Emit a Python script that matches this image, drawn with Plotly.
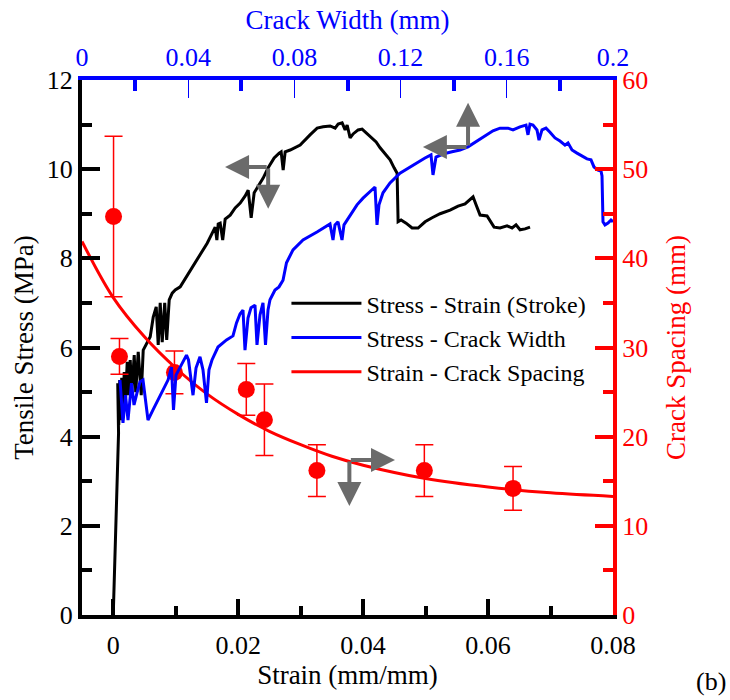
import plotly.graph_objects as go

# Stress - strain (stroke) curve: strain (mm/mm), tensile stress (MPa)
strain_stroke = [0.0, 0.00085, 0.00072, 0.00088, 0.00104, 0.0012, 0.00136, 0.00152, 0.00176, 0.00192,
                 0.00224, 0.00248, 0.00272, 0.00296, 0.00336, 0.0036, 0.004, 0.00448, 0.0048, 0.00544,
                 0.00592, 0.0064, 0.00688, 0.0072, 0.00752, 0.00784, 0.00824, 0.00856, 0.00896, 0.00944,
                 0.00992, 0.01072, 0.01168, 0.0128, 0.01392, 0.01504, 0.01632, 0.01659, 0.0168, 0.01712,
                 0.01752, 0.01792, 0.01872, 0.01952, 0.02032, 0.02112, 0.0216, 0.02208, 0.02256, 0.0232,
                 0.024, 0.0248, 0.02576, 0.02656, 0.02688, 0.0272, 0.02752, 0.02832, 0.02992, 0.0315,
                 0.03264, 0.0336, 0.03472, 0.03552, 0.036, 0.03664, 0.03712, 0.03744, 0.03792, 0.0384,
                 0.0392, 0.03984, 0.04064, 0.04144, 0.04208, 0.04272, 0.04352, 0.04432, 0.04496, 0.04544,
                 0.0456, 0.04608, 0.04688, 0.04784, 0.0488, 0.04992, 0.05104, 0.05232, 0.05392, 0.0552,
                 0.05632, 0.05712, 0.0576, 0.05808, 0.05872, 0.05984, 0.06048, 0.06096, 0.06192, 0.06304,
                 0.06384, 0.06448, 0.06512, 0.06592, 0.06672]
stress_stroke = [0.0, 4.08, 5.20, 4.26, 5.27, 4.37, 5.32, 4.49, 5.45, 4.71,
                 5.68, 4.93, 5.72, 4.98, 5.83, 5.00, 5.90, 4.93, 5.94, 6.10,
                 6.24, 6.68, 6.91, 6.06, 7.00, 6.12, 7.00, 6.17, 7.07, 7.22,
                 7.29, 7.36, 7.58, 7.81, 8.08, 8.34, 8.70, 8.41, 8.77, 8.79,
                 8.41, 8.88, 8.97, 9.13, 9.24, 9.40, 9.53, 8.91, 9.47, 9.62,
                 9.80, 10.03, 10.25, 10.36, 10.39, 9.98, 10.39, 10.43, 10.54, 10.77,
                 10.92, 10.95, 10.97, 10.92, 11.01, 11.04, 10.88, 10.99, 10.70, 10.79,
                 10.88, 10.90, 10.79, 10.70, 10.61, 10.48, 10.34, 10.21, 10.03, 9.91,
                 8.82, 8.86, 8.79, 8.68, 8.68, 8.82, 8.91, 9.00, 9.08, 9.17,
                 9.22, 9.31, 9.38, 9.20, 8.97, 8.95, 8.82, 8.70, 8.68, 8.73,
                 8.68, 8.75, 8.64, 8.66, 8.70]

# Stress - crack width curve: crack width (mm), tensile stress (MPa)
crack_width = [0.01431, 0.01544, 0.01638, 0.01733, 0.01864, 0.01959, 0.02072, 0.02185, 0.02298, 0.02486,
               0.02674, 0.02863, 0.03051, 0.03239, 0.03371, 0.03446, 0.0354, 0.03691, 0.03936, 0.04011,
               0.04181, 0.04294, 0.04444, 0.04557, 0.04689, 0.04783, 0.04896, 0.05122, 0.05443, 0.05687,
               0.05819, 0.05951, 0.06064, 0.06139, 0.06252, 0.06365, 0.06516, 0.06591, 0.06704, 0.06817,
               0.06911, 0.07006, 0.07081, 0.07269, 0.0742, 0.07571, 0.07702, 0.07947, 0.08324, 0.08851,
               0.09341, 0.09454, 0.09529, 0.09642, 0.09793, 0.09868, 0.10094, 0.10358, 0.10584, 0.10847,
               0.11036, 0.11111, 0.11186, 0.11337, 0.11601, 0.11977, 0.12354, 0.12655, 0.12919, 0.13145,
               0.1322, 0.13333, 0.13597, 0.13936, 0.14237, 0.14539, 0.1484, 0.15179, 0.1548, 0.15744,
               0.16045, 0.16234, 0.16497, 0.16723, 0.16798, 0.16874, 0.16987, 0.17137, 0.17213, 0.17326,
               0.17476, 0.17627, 0.17815, 0.18004, 0.18192, 0.18305, 0.18456, 0.18644, 0.18832, 0.19021,
               0.19171, 0.19284, 0.19435, 0.19548, 0.19586, 0.19623, 0.19699, 0.19812, 0.19925, 0.2]
stress_cw = [5.27, 4.31, 4.93, 4.37, 5.20, 4.71, 4.98, 5.23, 5.27, 4.37,
             4.60, 4.82, 5.05, 5.27, 5.56, 4.60, 5.38, 5.56, 5.83, 5.72,
             4.93, 5.54, 5.79, 5.50, 4.76, 5.50, 5.72, 6.01, 6.17, 6.26,
             6.55, 6.75, 6.84, 5.94, 6.66, 6.89, 6.95, 6.06, 6.73, 7.00,
             6.06, 6.84, 7.07, 7.29, 7.36, 7.51, 7.90, 8.19, 8.41, 8.59,
             8.77, 8.41, 8.75, 8.82, 8.41, 8.75, 8.97, 9.20, 9.35, 9.49,
             9.60, 8.75, 9.20, 9.47, 9.69, 9.91, 10.05, 10.16, 10.25, 10.32,
             9.87, 10.27, 10.34, 10.39, 10.43, 10.50, 10.61, 10.74, 10.86, 10.92,
             10.92, 10.88, 10.95, 10.99, 10.77, 11.01, 10.99, 10.88, 10.65, 10.88,
             10.92, 10.83, 10.70, 10.63, 10.54, 10.59, 10.43, 10.36, 10.30, 10.23,
             10.21, 10.05, 9.98, 9.96, 9.85, 8.82, 8.75, 8.79, 8.86, 8.82]

# Measured crack spacing (mm) with scatter, against strain
cs_strain = [0.00005, 0.001, 0.0098, 0.0213, 0.0242, 0.0326, 0.0498, 0.064]
cs_mean = [44.7, 29.0, 27.2, 25.3, 21.9, 16.2, 16.2, 14.2]
cs_err = [9.0, 2.0, 2.4, 2.9, 4.0, 2.9, 2.9, 2.45]

# Trend line of crack spacing against strain
fit_strain = [-0.005, 0.0, 0.005, 0.01, 0.015, 0.02, 0.025, 0.03, 0.035, 0.04, 0.05, 0.06, 0.07, 0.08]
fit_spacing = [41.9, 35.6, 31.2, 27.7, 24.8, 22.5, 20.6, 19.1, 17.8, 16.8, 15.3, 14.35, 13.7, 13.3]

FONT = "Liberation Serif"
GREY = "#6b6b6b"

fig = go.Figure()
fig.add_trace(go.Scatter(x=strain_stroke, y=stress_stroke, mode="lines",
                         line=dict(color="black", width=3),
                         name="Stress - Strain (Stroke)", xaxis="x", yaxis="y"))
fig.add_trace(go.Scatter(x=crack_width, y=stress_cw, mode="lines",
                         line=dict(color="#0000ff", width=3),
                         name="Stress - Crack Width", xaxis="x2", yaxis="y"))
fig.add_trace(go.Scatter(x=fit_strain, y=fit_spacing, mode="lines",
                         line=dict(color="#ff0000", width=3, shape="spline"),
                         name="Strain - Crack Spacing", xaxis="x", yaxis="y2"))
fig.add_trace(go.Scatter(x=cs_strain, y=cs_mean, mode="markers",
                         marker=dict(color="#ff0000", size=17),
                         error_y=dict(type="data", array=cs_err, color="#ff0000",
                                      thickness=1.5, width=9),
                         showlegend=False, xaxis="x", yaxis="y2"))

# Direction arrows pointing each curve to its axes
arrows = [
    # stress - strain (stroke): left axis and bottom axis
    dict(xref="x", yref="y", x=0.0179, y=10.05, ax=0.0248, ay=10.05),
    dict(xref="x", yref="y", x=0.0248, y=9.11, ax=0.0248, ay=10.05),
    # stress - crack width: left axis and top axis
    dict(xref="x2", yref="y", x=0.1284, y=10.50, ax=0.1454, ay=10.50),
    dict(xref="x2", yref="y", x=0.1454, y=11.49, ax=0.1454, ay=10.50),
    # crack spacing: right axis and bottom axis
    dict(xref="x", yref="y2", x=0.0451, y=17.38, ax=0.0378, ay=17.38),
    dict(xref="x", yref="y2", x=0.0378, y=12.22, ax=0.0378, ay=17.38),
]
annotations = []
for a in arrows:
    annotations.append(dict(
        xref=a["xref"], yref=a["yref"], x=a["x"], y=a["y"],
        axref=a["xref"], ayref=a["yref"], ax=a["ax"], ay=a["ay"],
        text="", showarrow=True, arrowhead=2, arrowsize=1.2, arrowwidth=4,
        arrowcolor=GREY, standoff=0, startstandoff=0))

annotations.append(dict(xref="paper", yref="paper", x=1.217, y=-0.156,
                        text="(b)", showarrow=False,
                        font=dict(family=FONT, size=26, color="black")))

tick_font = dict(family=FONT, size=26)
title_size = 27

fig.update_layout(
    width=730, height=700,
    margin=dict(l=82, r=117, t=80, b=85),
    paper_bgcolor="white", plot_bgcolor="white",
    font=dict(family=FONT, color="black"),
    showlegend=True,
    legend=dict(x=0.385, y=0.624, xanchor="left", yanchor="top",
                bgcolor="rgba(0,0,0,0)", borderwidth=0,
                font=dict(family=FONT, size=24, color="black"),
                itemwidth=70, tracegroupgap=0),
    xaxis=dict(range=[-0.005, 0.08], tick0=0, dtick=0.02,
               ticks="inside", ticklen=16, tickwidth=4, tickcolor="black",
               minor=dict(ticks="inside", ticklen=9, tickwidth=4, tickcolor="black",
                          tick0=0, dtick=0.01),
               showline=True, linewidth=4, linecolor="black",
               showgrid=False, zeroline=False, ticklabelstandoff=4,
               tickfont=dict(tick_font, color="black"),
               title=dict(text="Strain (mm/mm)", standoff=0,
                          font=dict(family=FONT, size=title_size, color="black"))),
    xaxis2=dict(range=[0, 0.2], overlaying="x", side="top", tick0=0, dtick=0.04,
                ticks="inside", ticklen=18, tickwidth=1, tickcolor="#0000ff",
                minor=dict(ticks="inside", ticklen=11, tickwidth=4, tickcolor="#0000ff",
                           tick0=0, dtick=0.02),
                showline=True, linewidth=4, linecolor="#0000ff",
                showgrid=False, zeroline=False,
                tickfont=dict(tick_font, color="#0000ff"),
                title=dict(text="Crack Width (mm)", standoff=6,
                           font=dict(family=FONT, size=title_size, color="#0000ff"))),
    yaxis=dict(range=[0, 12], tick0=0, dtick=2,
               ticks="inside", ticklen=18, tickwidth=4, tickcolor="black",
               minor=dict(ticks="inside", ticklen=10, tickwidth=4, tickcolor="black",
                          tick0=0, dtick=1),
               showline=True, linewidth=4, linecolor="black",
               showgrid=False, zeroline=False,
               tickfont=dict(tick_font, color="black"),
               title=dict(text="Tensile Stress (MPa)", standoff=6,
                          font=dict(family=FONT, size=title_size, color="black"))),
    yaxis2=dict(range=[0, 60], overlaying="y", side="right", tick0=0, dtick=10,
                ticks="inside", ticklen=18, tickwidth=4, tickcolor="#ff0000",
                minor=dict(ticks="inside", ticklen=10, tickwidth=4, tickcolor="#ff0000",
                           tick0=0, dtick=5),
                showline=True, linewidth=4, linecolor="#ff0000",
                showgrid=False, zeroline=False,
                tickfont=dict(tick_font, color="#ff0000"),
                title=dict(text="Crack Spacing (mm)", standoff=20,
                           font=dict(family=FONT, size=title_size, color="#ff0000"))),
    annotations=annotations,
)

fig.write_html("out.html")
